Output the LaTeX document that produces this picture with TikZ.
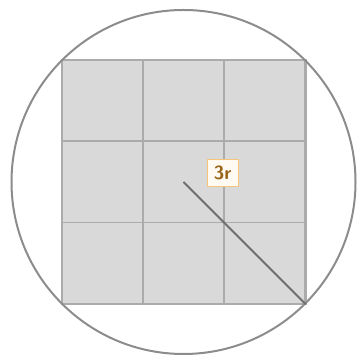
\documentclass[tikz,border=0pt]{standalone}
\usepackage{tikz}
\usetikzlibrary{positioning,calc}
\definecolor{rimgray}{HTML}{8C8C8C}
\definecolor{cellgray}{HTML}{D9D9D9}
\definecolor{gridgray}{HTML}{ABABAB}
\definecolor{radgray}{HTML}{6E6E6E}
\definecolor{tagline}{HTML}{F2C77A}
\definecolor{tagfill}{HTML}{FFFBF2}
\definecolor{tagink}{HTML}{9A6418}

\begin{document}
\begin{tikzpicture}[
  x=1pt, y=1pt,
  square/.style={draw=gridgray, fill=cellgray, line width=1.5pt,
                 minimum size=243pt, inner sep=0pt},
  gridline/.style={draw=gridgray, line width=1.5pt},
  rim/.style={draw=rimgray, line width=2pt},
  radius line/.style={draw=radgray, line width=2pt},
  tag/.style={draw=tagline, fill=tagfill, line width=1.5pt,
              inner sep=3pt, text=tagink, minimum width=31pt, minimum height=27pt,
              font=\sffamily\bfseries\fontsize{19}{19}\selectfont},
]
\useasboundingbox (0,0) rectangle (359,355);

% --- Square with its 3x3 grid ---
\node[square] (sq) at (183.5,173) {};
\foreach \i in {1,2} {
  \draw[gridline] ($(sq.south west)!\i/3!(sq.south east)$) -- ($(sq.north west)!\i/3!(sq.north east)$);
  \draw[gridline] ($(sq.south west)!\i/3!(sq.north west)$) -- ($(sq.south east)!\i/3!(sq.north east)$);
}
\draw[gridline] (sq.south west) rectangle (sq.north east);

% --- Circumscribed circle ---
\coordinate (c) at (sq.center);
\draw[rim] (c) circle (172);

% --- Radius from centre to corner, with its label ---
\draw[radius line] (c) -- (sq.south east);
\node[tag, right=23pt of c, yshift=9pt] (lbl) {3r};
\end{tikzpicture}
\end{document}
